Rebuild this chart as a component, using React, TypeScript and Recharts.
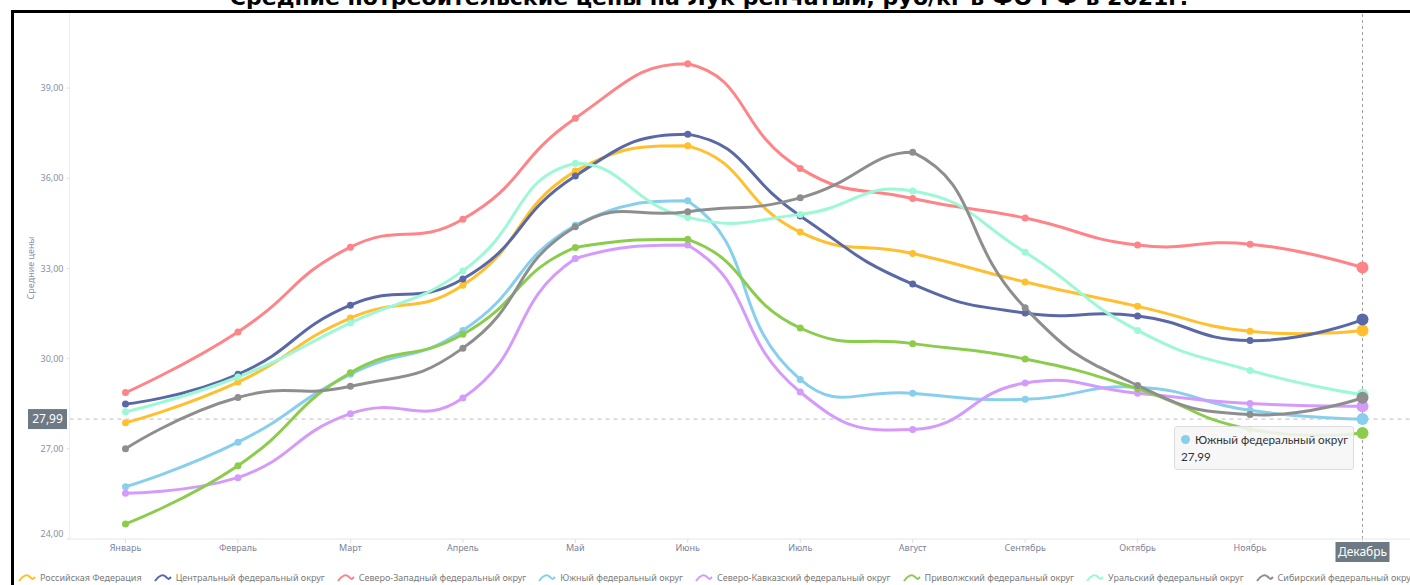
import { LineChart, Line, XAxis, YAxis, Tooltip, ReferenceLine } from "recharts";

const months = [
  "Январь", "Февраль", "Март", "Апрель", "Май", "Июнь",
  "Июль", "Август", "Сентябрь", "Октябрь", "Ноябрь", "Декабрь",
];

const russia = [27.87, 29.22, 31.35, 32.44, 36.24, 37.08, 34.21, 33.5, 32.55, 31.74, 30.91, 30.94];
const central = [28.49, 29.48, 31.78, 32.65, 36.08, 37.47, 34.75, 32.48, 31.52, 31.42, 30.6, 31.3];
const northWest = [28.87, 30.89, 33.71, 34.64, 38.0, 39.81, 36.33, 35.33, 34.68, 33.78, 33.81, 33.03];
const south = [25.74, 27.22, 29.48, 30.94, 34.44, 35.25, 29.31, 28.85, 28.65, 29.05, 28.28, 27.99];
const northCaucasus = [25.52, 26.04, 28.17, 28.69, 33.33, 33.78, 28.89, 27.64, 29.19, 28.85, 28.51, 28.42];
const volga = [24.5, 26.44, 29.53, 30.81, 33.7, 33.97, 31.02, 30.5, 29.99, 29.0, 27.65, 27.53];
const ural = [28.23, 29.39, 31.19, 32.92, 36.5, 34.7, 34.8, 35.58, 33.54, 30.94, 29.61, 28.8];
const siberia = [27.0, 28.71, 29.08, 30.35, 34.39, 34.89, 35.35, 36.87, 31.69, 29.11, 28.14, 28.7];

const yTicks = [24, 27, 30, 33, 36, 39];

const series = [
  { key: "russia", name: "Российская Федерация", color: "#ffbf2f", values: russia },
  { key: "central", name: "Центральный федеральный округ", color: "#5a69a5", values: central },
  { key: "northWest", name: "Северо-Западный федеральный округ", color: "#ff8487", values: northWest },
  { key: "south", name: "Южный федеральный округ", color: "#88cfee", values: south },
  { key: "northCaucasus", name: "Северо-Кавказский федеральный округ", color: "#d59bfb", values: northCaucasus },
  { key: "volga", name: "Приволжский федеральный округ", color: "#8ccc4d", values: volga },
  { key: "ural", name: "Уральский федеральный округ", color: "#9df8d6", values: ural },
  { key: "siberia", name: "Сибирский федеральный округ", color: "#8e8e8e", values: siberia },
];

const data = months.map((month, i) => {
  const row: Record<string, string | number> = { month };
  for (const s of series) row[s.key] = s.values[i];
  return row;
});

const fmt = (v: number) => v.toFixed(2).replace(".", ",");

// smoothing like the old echarts "smooth: true" lines (tangent overshoot allowed)
const SMOOTH = 0.5;
function smoothCurve(context: any) {
  let pts: number[][] = [];
  return {
    areaStart() {},
    areaEnd() {},
    lineStart() {
      pts = [];
    },
    point(x: number, y: number) {
      pts.push([+x, +y]);
    },
    lineEnd() {
      if (!pts.length) return;
      let minX = Infinity, minY = Infinity, maxX = -Infinity, maxY = -Infinity;
      for (const p of pts) {
        minX = Math.min(minX, p[0]); maxX = Math.max(maxX, p[0]);
        minY = Math.min(minY, p[1]); maxY = Math.max(maxY, p[1]);
      }
      const clamp = (c: number[]) => [
        Math.min(maxX, Math.max(minX, c[0])),
        Math.min(maxY, Math.max(minY, c[1])),
      ];
      context.moveTo(pts[0][0], pts[0][1]);
      let cp0 = [pts[0][0], pts[0][1]];
      let v = [0, 0];
      for (let i = 1; i < pts.length; i++) {
        const p = pts[i];
        const prev = pts[i - 1];
        const next = pts[i + 1];
        let cp1 = [p[0], p[1]];
        let ratio = 0.5;
        if (next) {
          v = [next[0] - prev[0], next[1] - prev[1]];
          const a = Math.hypot(p[0] - prev[0], p[1] - prev[1]);
          const b = Math.hypot(next[0] - p[0], next[1] - p[1]);
          ratio = b / (a + b);
          cp1 = [p[0] - v[0] * SMOOTH * (1 - ratio), p[1] - v[1] * SMOOTH * (1 - ratio)];
        }
        const c0 = clamp(cp0);
        const c1 = clamp(cp1);
        context.bezierCurveTo(c0[0], c0[1], c1[0], c1[1], p[0], p[1]);
        cp0 = [p[0] + v[0] * SMOOTH * ratio, p[1] + v[1] * SMOOTH * ratio];
      }
    },
  };
}

function YTick({ x, y, payload }: any) {
  const shift = payload.value === 24 ? -5 : 0;
  return (
    <text x={x} y={y + shift} dy="0.35em" textAnchor="end" fontSize={9} fill="#8a8fa6">
      {fmt(payload.value)}
    </text>
  );
}

function XTick({ x, y, payload }: any) {
  if (payload.value === "Декабрь") {
    return (
      <g>
        <rect x={x - 27} y={y - 3} width={54} height={20} fill="#6e7a83" />
        <text x={x} y={y + 7} dy="0.35em" textAnchor="middle" fontSize={12} fill="#fff">
          {payload.value}
        </text>
      </g>
    );
  }
  return (
    <text x={x} y={y} dy="0.71em" textAnchor="middle" fontSize={9} fill="#7d8299">
      {payload.value}
    </text>
  );
}

function PriceLabel({ viewBox }: any) {
  const y = viewBox.y;
  const x = viewBox.x - 41.5;
  return (
    <g>
      <rect x={x} y={y - 10} width={39} height={20} fill="#6e7a83" />
      <text x={x + 19.5} y={y} dy="0.35em" textAnchor="middle" fontSize={12} fill="#fff">
        {fmt(south[11])}
      </text>
    </g>
  );
}

function TipBox({ active, payload }: any) {
  if (!active || !payload || !payload.length) return null;
  const item = payload.find((p: any) => p.dataKey === "south");
  if (!item) return null;
  return (
    <div
      style={{
        whiteSpace: "nowrap",
        background: "rgba(246,246,246,0.88)",
        border: "1px solid #dcdcdc",
        borderRadius: 3,
        padding: "4px 5px 4px 6px",
        fontFamily: "Lato, sans-serif",
        fontSize: 11.7,
        lineHeight: "17px",
        color: "#333",
      }}
    >
      <div style={{ display: "flex", alignItems: "center" }}>
        <span
          style={{
            display: "inline-block",
            width: 9,
            height: 9,
            borderRadius: "50%",
            background: item.color,
            marginRight: 5,
          }}
        />
        {item.name}
      </div>
      <div>{fmt(item.value)}</div>
    </div>
  );
}

export default function App() {
  return (
    <div
      style={{
        position: "absolute",
        left: 0,
        top: 0,
        width: 1410,
        height: 585,
        overflow: "hidden",
        background: "#fff",
        fontFamily: "'Noto Sans', sans-serif",
      }}
    >
      <div
        style={{
          position: "absolute",
          left: 0,
          width: 1418,
          top: -13,
          lineHeight: "22px",
          textAlign: "center",
          fontFamily: "'DejaVu Sans', sans-serif",
          fontWeight: "bold",
          fontSize: 22,
          color: "#000",
        }}
      >
        Средние потребительские цены на Лук репчатый, руб/кг в ФО РФ в 2021г.
      </div>
      <div
        style={{
          position: "absolute",
          left: 11,
          top: 10,
          width: 1600,
          height: 800,
          border: "3px solid #000",
        }}
      />
      <div style={{ position: "absolute", left: 0, top: 0 }}>
        <LineChart
          width={1480}
          height={585}
          data={data}
          margin={{ top: 13, right: 61.5, left: 9.5, bottom: 16 }}
        >
          <XAxis
            dataKey="month"
            height={30}
            padding={{ left: 56, right: 56 }}
            axisLine={{ stroke: "#e6e6e6" }}
            tickLine={{ stroke: "#e0e0e0" }}
            tickSize={4}
            tickMargin={2}
            interval={0}
            tick={<XTick />}
          />
          <YAxis
            width={60}
            domain={[24, 41.5]}
            ticks={yTicks}
            axisLine={{ stroke: "#eeeeee" }}
            tickLine={{ stroke: "#e0e0e0" }}
            tickSize={3}
            tickMargin={3}
            tick={<YTick />}
            label={({ viewBox }: any) => (
              <text
                transform={`translate(${viewBox.x + 21},${viewBox.y + viewBox.height / 2 - 8}) rotate(-90)`}
                textAnchor="middle"
                dy="0.35em"
                fontSize={9}
                fill="#8a8fb0"
              >
                Средние цены
              </text>
            )}
          />
          <ReferenceLine x="Декабрь" stroke="#a0a0a0" strokeDasharray="3 3" />
          <ReferenceLine
            y={south[11]}
            stroke="#bdbdbd"
            strokeDasharray="4 4"
            label={<PriceLabel />}
          />
          {series.map((s) => (
            <Line
              key={s.key}
              dataKey={s.key}
              name={s.name}
              stroke={s.color}
              strokeWidth={3}
              type={smoothCurve as any}
              isAnimationActive={false}
              activeDot={false}
              dot={(props: any) => (
                <circle
                  key={`${s.key}-${props.index}`}
                  cx={props.cx}
                  cy={props.cy}
                  r={props.index === 11 ? 6 : 3.5}
                  fill={s.color}
                  stroke="none"
                />
              )}
            />
          ))}
          <Tooltip
            active
            defaultIndex={11}
            cursor={false}
            position={{ x: 1174, y: 426 }}
            isAnimationActive={false}
            allowEscapeViewBox={{ x: true, y: true }}
            wrapperStyle={{ outline: "none" }}
            content={<TipBox />}
          />
        </LineChart>
      </div>
      <div
        style={{
          position: "absolute",
          left: 18,
          top: 571,
          display: "flex",
          whiteSpace: "nowrap",
          fontSize: 9,
          color: "#7a7a7a",
          lineHeight: "14px",
        }}
      >
        {series.map((s) => (
          <div key={s.key} style={{ display: "flex", alignItems: "center", marginRight: 12 }}>
            <svg width={18} height={10} style={{ marginRight: 4 }}>
              <path
                d="M1 8 C 5 2, 9 1, 12 4 S 15 6, 17 4"
                fill="none"
                stroke={s.color}
                strokeWidth={2}
              />
            </svg>
            {s.name}
          </div>
        ))}
      </div>
    </div>
  );
}
